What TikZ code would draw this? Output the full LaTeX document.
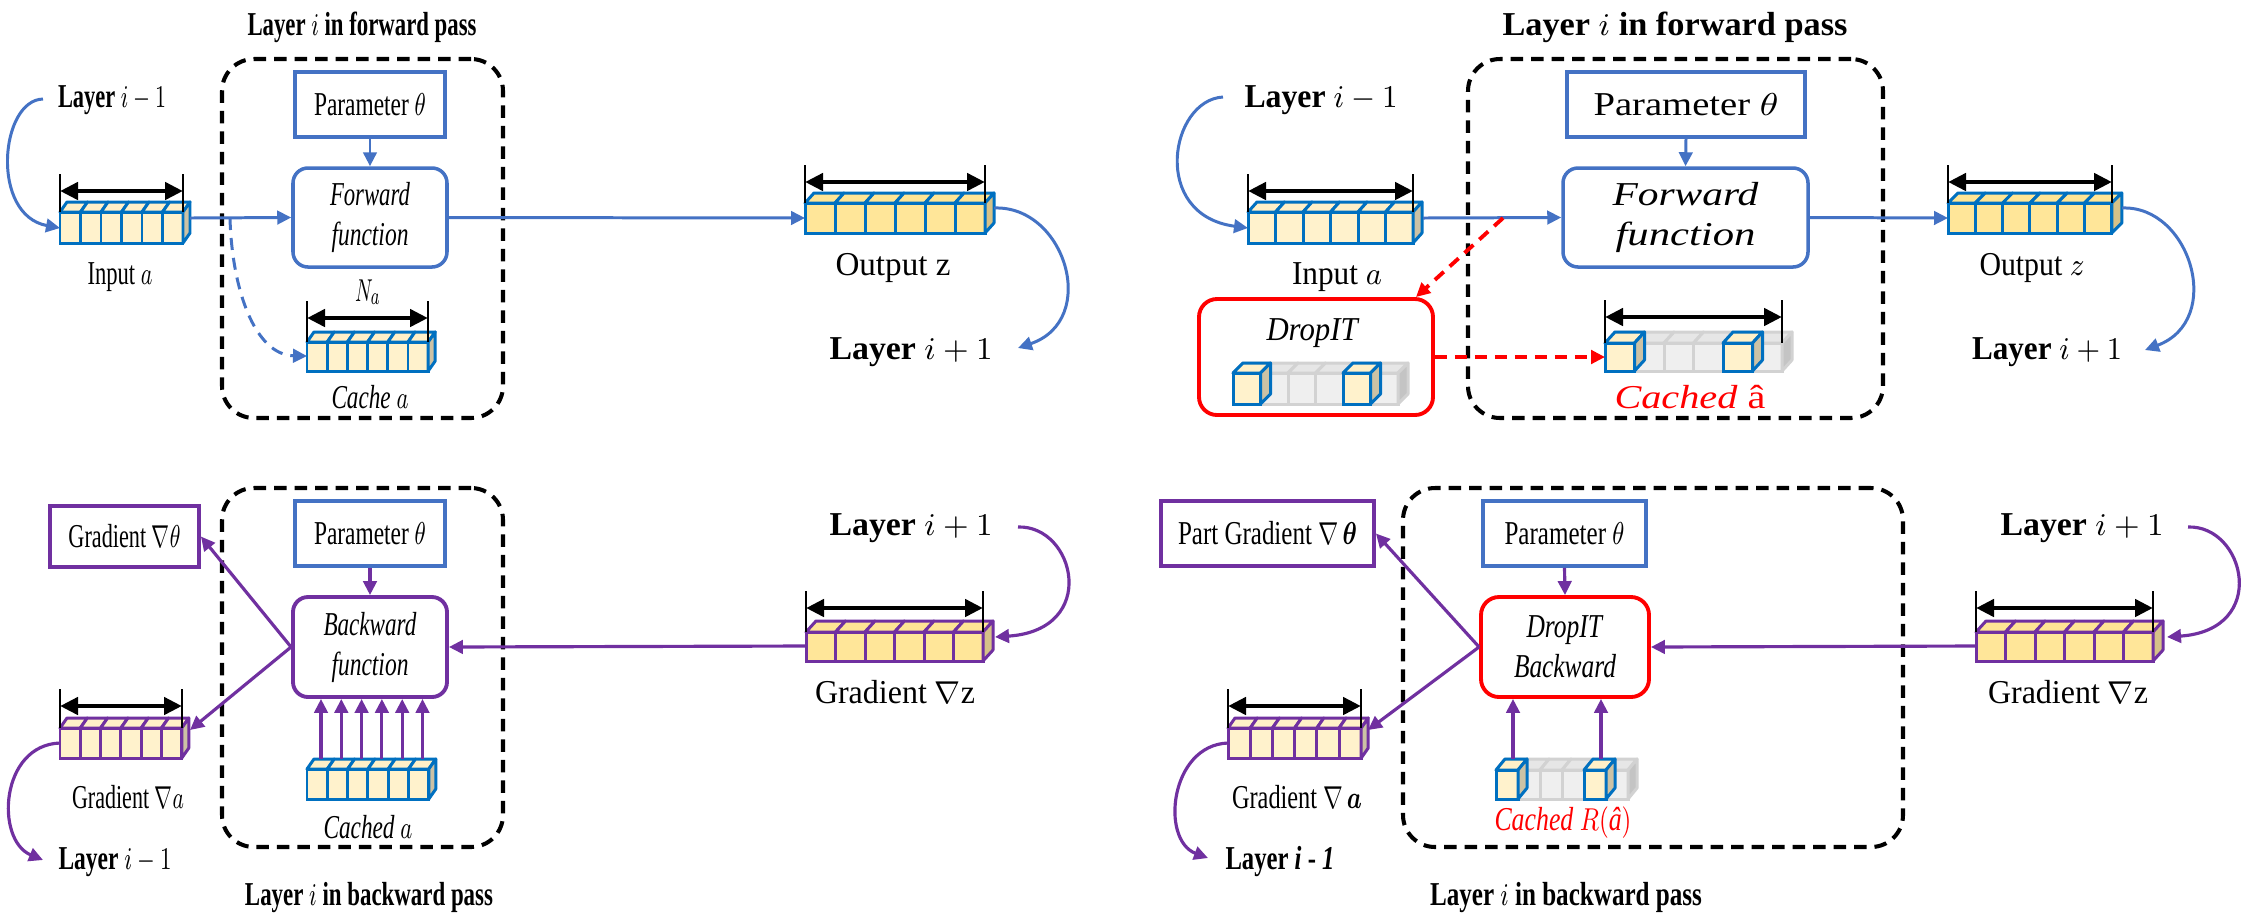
\documentclass[tikz,border=0pt]{standalone}
\usepackage{fontspec}
\setmainfont{Liberation Serif}
\usepackage{amsmath}
\usepackage{bm}
\usepackage{graphicx}
\usetikzlibrary{arrows.meta}
\definecolor{abl}{HTML}{4472C4}
\definecolor{cbl}{HTML}{0070C0}
\definecolor{pur}{HTML}{7030A0}
\definecolor{dred}{HTML}{FF0000}
\definecolor{pyF}{HTML}{FFF2CC}
\definecolor{pyT}{HTML}{FFF0C8}
\definecolor{pyS}{HTML}{CCC2A5}
\definecolor{dyF}{HTML}{FFE699}
\definecolor{dyT}{HTML}{FFE595}
\definecolor{dyS}{HTML}{D6C288}
\definecolor{grF}{HTML}{EFEFEF}
\definecolor{grT}{HTML}{E6E6E6}
\definecolor{grS}{HTML}{C4C4C4}
\definecolor{gre}{HTML}{D2D2D2}
\newcommand{\tw}[2]{\resizebox{#1mm}{\height}{#2}}
% x0, y0 (top of front face), n, w, h, dx, dy, edge colour, fill prefix
\newcommand{\cuberow}[9]{%
  \foreach \k in {1,...,#3}{%
    \pgfmathsetmacro\xa{#1+(\k-1)*#4}%
    \pgfmathsetmacro\xb{#1+\k*#4}%
    \filldraw[draw=#8, fill=#9F, line width=0.85pt] (\xa,#2) rectangle (\xb,{#2+#5});
    \filldraw[draw=#8, fill=#9T, line width=0.85pt, line join=round] (\xa,#2) -- ({\xa+#6},{#2-#7}) -- ({\xb+#6},{#2-#7}) -- (\xb,#2) -- cycle;
  }%
  \pgfmathsetmacro\xc{#1+#3*#4}%
  \filldraw[draw=#8, fill=#9S, line width=0.85pt, line join=round] (\xc,#2) -- ({\xc+#6},{#2-#7}) -- ({\xc+#6},{#2+#5-#7}) -- (\xc,{#2+#5}) -- cycle;
}
\newcommand{\dimline}[4]{%
  \draw[dimtick] (#1,{#3-17}) -- (#1,#4);
  \draw[dimtick] (#2,{#3-17}) -- (#2,#4);
  \draw[dimar] (#1,#3) -- (#2,#3);
}
\tikzset{
  tip/.style={-{Triangle[length=1.4mm,width=1.35mm]}},
  blu/.style={tip, color=abl, line width=0.85pt},
  pa/.style={tip, color=pur, line width=0.9pt},
  rdash/.style={tip, color=dred, line width=1.1pt, dash pattern=on 1.2mm off 0.8mm},
  dimar/.style={black, line width=1.4pt, {Triangle[length=1.8mm,width=1.7mm]}-{Triangle[length=1.8mm,width=1.7mm]}},
  dimtick/.style={black, line width=0.35pt},
  dbox/.style={draw=black, line width=1.15pt, dash pattern=on 1.25mm off 0.8mm, rounded corners=3.2mm},
  pbox/.style={draw=abl, line width=1pt},
  ppbox/.style={draw=pur, line width=1.1pt},
  fbox/.style={draw=abl, line width=1pt, rounded corners=1.5mm, align=center},
  pfbox/.style={draw=pur, line width=1.1pt, rounded corners=1.5mm, align=center},
  rfbox/.style={draw=dred, line width=1.1pt, rounded corners=1.8mm, align=center},
}
\begin{document}
\begin{tikzpicture}[x=0.1mm, y=-0.1mm, inner sep=0pt, font=\fontsize{9.5}{11.4}\selectfont]
\useasboundingbox (0,0) rectangle (2249,919);
\fill[white] (0,0) rectangle (2249,919);

%================ TOP LEFT =================
\node[dbox, minimum width=28.1mm, minimum height=35.9mm] (tldash) at (362.5,238.5) {};
\node (tltitle) at (362,27) {\tw{22.9}{\textbf{Layer $i$ in forward pass}}};
\node[pbox, minimum width=15mm, minimum height=6.5mm] (tlpar) at (370,104.5) {\tw{11.2}{Parameter $\theta$}};
\node[fbox, minimum width=15.4mm, minimum height=9.9mm] (tlfwd) at (370,217.5) {\tw{8}{\textit{Forward}}\\\tw{7.7}{\textit{function}}};
\node (tllm) at (112,100) {\tw{10.8}{\textbf{Layer} $i-1$}};
\coordinate (tllmc) at (43,99);
\cuberow{60}{212}{6}{20.5}{31}{7}{10}{cbl}{py}
\dimline{60}{183}{191}{212}
\coordinate (tlinL) at (60,228);
\coordinate (tlinR) at (190,218);
\node (tlin) at (120,277) {\tw{6.5}{Input $a$}};
\node (tlna) at (368,292) {\tw{2.6}{$N_a$}};
\cuberow{307}{342}{6}{20.2}{29}{7}{10}{cbl}{py}
\dimline{307}{428}{318}{342}
\coordinate (tlcaL) at (307,356);
\node (tlca) at (370,397) {\tw{7.7}{\textit{Cache} $a$}};
\cuberow{805}{203}{6}{30}{30}{9}{10}{cbl}{dy}
\dimline{805}{985}{182}{203}
\coordinate (tloutL) at (805,218);
\coordinate (tloutR) at (994,208);
\node (tlout) at (893,268) {\tw{11.5}{Output z}};
\node (tllp) at (911,352) {\tw{16.3}{\textbf{Layer} $i+1$}};
\coordinate (tllpc) at (1018,348);
\coordinate (tlbr) at (230,218);
\draw[blu] (tllmc) .. controls (0,100) and (-10,215) .. (tlinL);
\draw[blu] (tlpar.south) -- (tlfwd.north);
\draw[blu] (tlinR) -- (tlfwd.west);
\draw[blu, dash pattern=on 1.2mm off 0.8mm] (tlbr) .. controls (232,290) and (255,355) .. (tlcaL);
\draw[blu] (tlfwd.east) -- (tloutL);
\draw[blu] (tloutR) .. controls (1065,205) and (1100,320) .. (tllpc);

%================ TOP RIGHT =================
\node[dbox, minimum width=41.5mm, minimum height=35.9mm] (trdash) at (1675.5,238.5) {};
\node (trtitle) at (1675,27) {\tw{34.5}{\textbf{Layer $i$ in forward pass}}};
\node[pbox, minimum width=23.8mm, minimum height=6.5mm] (trpar) at (1686,104.5) {\tw{18.5}{Parameter $\theta$}};
\node[fbox, minimum width=24.5mm, minimum height=9.9mm] (trfwd) at (1685.5,217.5) {\tw{14.6}{\textit{Forward}}\\\tw{14}{\textit{function}}};
\node (trlm) at (1321,100) {\tw{15.3}{\textbf{Layer} $i-1$}};
\coordinate (trlmc) at (1223,97);
\cuberow{1248}{212}{6}{27.5}{31}{9}{10}{cbl}{py}
\dimline{1248}{1413}{191}{212}
\coordinate (trinL) at (1248,228);
\coordinate (trinR) at (1423,218);
\node (trin) at (1337,277) {\tw{9}{Input $a$}};
\node[rfbox, minimum width=23.4mm, minimum height=11.6mm] (trdrop) at (1316,357) {};
\node (trdroplab) at (1313,333) {\tw{9.3}{\textit{DropIT}}};
\cuberow{1233}{373}{6}{27.5}{31}{10}{10}{gre}{gr}
\cuberow{1233}{373}{1}{27.5}{31}{10}{10}{cbl}{py}
\cuberow{1343}{373}{1}{27.5}{31}{10}{10}{cbl}{py}
\coordinate (trdropc) at (1416,297);
\coordinate (trbr) at (1503,218);
\cuberow{1605}{343}{6}{29.5}{28}{10}{11}{gre}{gr}
\cuberow{1605}{343}{1}{29.5}{28}{10}{11}{cbl}{py}
\cuberow{1723}{343}{1}{29.5}{28}{10}{11}{cbl}{py}
\dimline{1605}{1782}{317}{343}
\coordinate (trcaL) at (1605,357);
\node[text=dred] (trca) at (1690,397) {\tw{15.1}{\textit{Cached} â}};
\cuberow{1948}{203}{6}{27.3}{30}{10}{10}{cbl}{dy}
\dimline{1948}{2112}{182}{203}
\coordinate (troutL) at (1948,218);
\coordinate (troutR) at (2122,208);
\node (trout) at (2032,268) {\tw{10.5}{Output $z$}};
\node (trlp) at (2047,352) {\tw{15}{\textbf{Layer} $i+1$}};
\coordinate (trlpc) at (2145,350);
\draw[blu] (trlmc) .. controls (1170,100) and (1150,215) .. (trinL);
\draw[blu] (trpar.south) -- (trfwd.north);
\draw[blu] (trinR) -- (trfwd.west);
\draw[rdash] (trbr) -- (trdropc);
\draw[rdash] (trdrop.east) -- (trcaL);
\draw[blu] (trfwd.east) -- (troutL);
\draw[blu] (troutR) .. controls (2190,205) and (2225,320) .. (trlpc);

%================ BOTTOM LEFT =================
\node[dbox, minimum width=28.1mm, minimum height=35.9mm] (bldash) at (362.5,667.5) {};
\node (bltitle) at (369,897) {\tw{24.8}{\textbf{Layer $i$ in backward pass}}};
\node[pbox, minimum width=15mm, minimum height=6.5mm] (blpar) at (370,533.5) {\tw{11.2}{Parameter $\theta$}};
\node[pfbox, minimum width=15.4mm, minimum height=10mm] (blbwd) at (370,647) {\tw{9.3}{\textit{Backward}}\\\tw{7.7}{\textit{function}}};
\node[ppbox, minimum width=14.9mm, minimum height=6.1mm] (blgth) at (124.5,536.5) {\tw{11.2}{Gradient $\nabla\theta$}};
\cuberow{60}{728}{6}{20.3}{30}{7}{10}{pur}{py}
\dimline{60}{182}{706}{728}
\coordinate (blgaR) at (190,730);
\coordinate (blgaL) at (60,743);
\node (blga) at (128,797) {\tw{11.2}{Gradient $\nabla a$}};
\node (bllm) at (115,862) {\tw{11.3}{\textbf{Layer} $i-1$}};
\coordinate (bllmc) at (43,860);
\cuberow{307}{769}{6}{20.3}{30}{7}{10}{cbl}{py}
\node (blca) at (368,827) {\tw{8.9}{\textit{Cached} $a$}};
\cuberow{806}{632}{6}{29.5}{29}{10}{11}{pur}{dy}
\dimline{806}{983}{608}{632}
\coordinate (blgzL) at (806,646);
\coordinate (blgzR) at (995,637);
\node (blgz) at (895,692) {\tw{16}{Gradient $\nabla$z}};
\node (bllp) at (911,528) {\tw{16.3}{\textbf{Layer} $i+1$}};
\coordinate (bllpc) at (1018,527);
\draw[pa] (blpar.south) -- (blbwd.north);
\draw[pa] (blbwd.west) -- (blgth.east);
\draw[pa] (blbwd.west) -- (blgaR);
\draw[pa] (blgaL) .. controls (0,745) and (-5,840) .. (bllmc);
\foreach \k in {0,...,5}{
  \coordinate (blc\k) at ({321+\k*20.3},759);
  \draw[pa] (blc\k) -- (blc\k |- blbwd.south);
}
\draw[pa] (blgzL) -- (blbwd.east);
\draw[pa] (bllpc) .. controls (1075,525) and (1100,630) .. (blgzR);

%================ BOTTOM RIGHT =================
\node[dbox, minimum width=50mm, minimum height=35.9mm] (brdash) at (1653,667.5) {};
\node (brtitle) at (1566,897) {\tw{27.2}{\textbf{Layer $i$ in backward pass}}};
\node[ppbox, minimum width=21.3mm, minimum height=6.5mm] (brgth) at (1267.5,533.5) {\tw{17.9}{Part Gradient $\nabla\,\bm{\theta}$}};
\node[pbox, minimum width=16.3mm, minimum height=6.5mm] (brpar) at (1564.5,533.5) {\tw{12}{Parameter $\theta$}};
\node[rfbox, minimum width=16.8mm, minimum height=10mm] (brbwd) at (1565,647) {\tw{7.7}{\textit{DropIT}}\\\tw{10.2}{\textit{Backward}}};
\cuberow{1228}{728}{6}{22.2}{30}{7}{10}{pur}{py}
\dimline{1228}{1361}{706}{728}
\coordinate (brgaR) at (1368,730);
\coordinate (brgaL) at (1228,743);
\node (brga) at (1297,797) {\tw{13}{Gradient $\nabla\,\bm{a}$}};
\node (brlm) at (1280,862) {\tw{10.9}{\textbf{Layer \textit{i} - \textit{1}}}};
\coordinate (brlmc) at (1208,858);
\cuberow{1496}{770}{6}{22}{29}{9}{11}{gre}{gr}
\cuberow{1496}{770}{1}{22}{29}{9}{11}{cbl}{py}
\cuberow{1584}{770}{1}{22}{29}{9}{11}{cbl}{py}
\coordinate (brc0) at (1513,759);
\coordinate (brc1) at (1601,759);
\node[text=dred] (brca) at (1563,823) {\tw{13.7}{\textit{Cached} $R($\textit{â}$)$}};
\cuberow{1976}{632}{6}{29.5}{29}{10}{11}{pur}{dy}
\dimline{1976}{2153}{608}{632}
\coordinate (brgzL) at (1976,646);
\coordinate (brgzR) at (2167,637);
\node (brgz) at (2068,692) {\tw{16}{Gradient $\nabla$z}};
\node (brlp) at (2082,528) {\tw{16.3}{\textbf{Layer} $i+1$}};
\coordinate (brlpc) at (2188,527);
\draw[pa] (brpar.south) -- (brbwd.north);
\draw[pa] (brbwd.west) -- (brgth.east);
\draw[pa] (brbwd.west) -- (brgaR);
\draw[pa] (brgaL) .. controls (1170,745) and (1160,840) .. (brlmc);
\draw[pa] (brc0) -- (brc0 |- brbwd.south);
\draw[pa] (brc1) -- (brc1 |- brbwd.south);
\draw[pa] (brgzL) -- (brbwd.east);
\draw[pa] (brlpc) .. controls (2245,525) and (2270,630) .. (brgzR);
\end{tikzpicture}
\end{document}
